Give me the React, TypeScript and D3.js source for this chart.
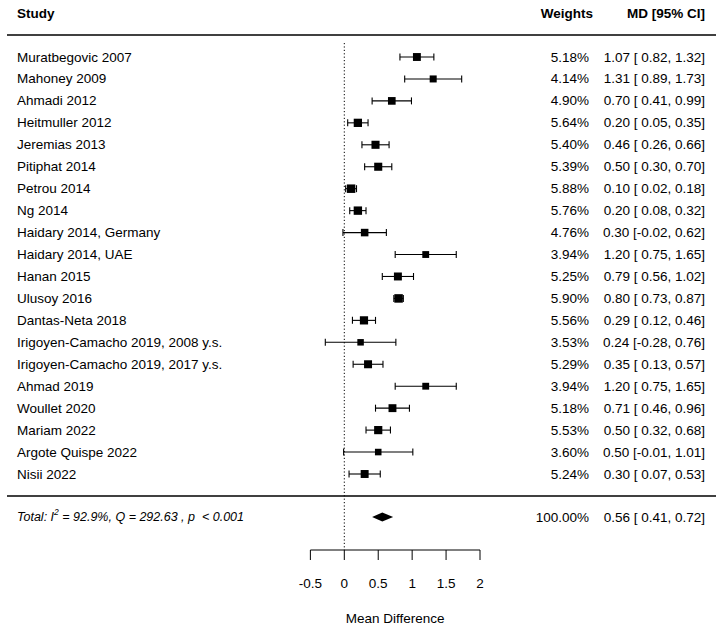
import React from "react";
import * as d3 from "d3";

const studies = [
  "Muratbegovic 2007", "Mahoney 2009", "Ahmadi 2012", "Heitmuller 2012", "Jeremias 2013",
  "Pitiphat 2014", "Petrou 2014", "Ng 2014", "Haidary 2014, Germany", "Haidary 2014, UAE",
  "Hanan 2015", "Ulusoy 2016", "Dantas-Neta 2018", "Irigoyen-Camacho 2019, 2008 y.s.",
  "Irigoyen-Camacho 2019, 2017 y.s.", "Ahmad 2019", "Woullet 2020", "Mariam 2022",
  "Argote Quispe 2022", "Nisii 2022",
];
const md = [1.07, 1.31, 0.70, 0.20, 0.46, 0.50, 0.10, 0.20, 0.30, 1.20, 0.79, 0.80, 0.29, 0.24, 0.35, 1.20, 0.71, 0.50, 0.50, 0.30];
const lower = [0.82, 0.89, 0.41, 0.05, 0.26, 0.30, 0.02, 0.08, -0.02, 0.75, 0.56, 0.73, 0.12, -0.28, 0.13, 0.75, 0.46, 0.32, -0.01, 0.07];
const upper = [1.32, 1.73, 0.99, 0.35, 0.66, 0.70, 0.18, 0.32, 0.62, 1.65, 1.02, 0.87, 0.46, 0.76, 0.57, 1.65, 0.96, 0.68, 1.01, 0.53];
const weights = [5.18, 4.14, 4.90, 5.64, 5.40, 5.39, 5.88, 5.76, 4.76, 3.94, 5.25, 5.90, 5.56, 3.53, 5.29, 3.94, 5.18, 5.53, 3.60, 5.24];
const total = { md: 0.56, lower: 0.41, upper: 0.72, weight: 100.0 };
const totalLabel = { i2: "92.9%", q: "292.63", p: "0.001" };
const ticks = [-0.5, 0, 0.5, 1, 1.5, 2];

const fmt2 = (v: number) => (v < 0 ? v.toFixed(2) : " " + v.toFixed(2));
const ciText = (m: number, l: number, u: number) => `${m.toFixed(2)} [${fmt2(l)}, ${u.toFixed(2)}]`;

export default function App() {
  const W = 722, H = 628;
  const x = d3.scaleLinear().domain([0, 2]).range([344.3, 480]);
  const y = d3.scaleLinear().domain([0, studies.length - 1]).range([57, 474]);
  const wMin = d3.min(weights)!, wMax = d3.max(weights)!;
  const size = d3.scaleLinear().domain([wMin, wMax]).range([6.5, 8.5]);
  const font = "Liberation Sans, Arial, sans-serif";
  const fs = 13.5;
  const axisY = 550;
  const totalY = 517;
  return (
    <svg width={W} height={H} style={{ position: "absolute", left: 0, top: 0 }} fontFamily={font} fontSize={fs}>
      <rect width={W} height={H} fill="#fff" />
      <text x={17} y={13} fontWeight="bold" dominantBaseline="central">Study</text>
      <text x={593} y={13} fontWeight="bold" textAnchor="end" dominantBaseline="central">Weights</text>
      <text x={705} y={13} fontWeight="bold" textAnchor="end" dominantBaseline="central">MD [95% CI]</text>
      <line x1={7} x2={716} y1={35} y2={35} stroke="#000" strokeWidth={1.3} />
      <line x1={7} x2={716} y1={496} y2={496} stroke="#000" strokeWidth={1.3} />
      <line x1={x(0)} x2={x(0)} y1={43} y2={axisY} stroke="#000" strokeWidth={1} strokeDasharray="1.2,2.2" />
      {studies.map((s, i) => {
        const yy = y(i);
        const sz = size(weights[i]);
        return (
          <g key={s}>
            <text x={17} y={yy} dominantBaseline="central">{s}</text>
            <line x1={x(lower[i])} x2={x(upper[i])} y1={yy} y2={yy} stroke="#000" strokeWidth={1.1} />
            <line x1={x(lower[i])} x2={x(lower[i])} y1={yy - 3.5} y2={yy + 3.5} stroke="#000" strokeWidth={1.1} />
            <line x1={x(upper[i])} x2={x(upper[i])} y1={yy - 3.5} y2={yy + 3.5} stroke="#000" strokeWidth={1.1} />
            <rect x={x(md[i]) - sz / 2} y={yy - sz / 2} width={sz} height={sz} fill="#000" />
            <text x={589} y={yy} textAnchor="end" dominantBaseline="central">{weights[i].toFixed(2)}%</text>
            <text x={705} y={yy} textAnchor="end" dominantBaseline="central" style={{ whiteSpace: "pre" }}>{ciText(md[i], lower[i], upper[i])}</text>
          </g>
        );
      })}
      <text x={17} y={totalY} dominantBaseline="central" fontStyle="italic" fontSize={12.5} style={{ whiteSpace: "pre" }}>
        {"Total: I"}
        <tspan dy={-5} fontSize={8.5}>2</tspan>
        <tspan dy={5}>{` = ${totalLabel.i2}, Q = ${totalLabel.q} , p  < ${totalLabel.p}`}</tspan>
      </text>
      <polygon
        points={`${x(total.lower)},${totalY} ${x(total.md)},${totalY - 4.5} ${x(total.upper)},${totalY} ${x(total.md)},${totalY + 4.5}`}
        fill="#000"
      />
      <text x={589} y={totalY} textAnchor="end" dominantBaseline="central">{total.weight.toFixed(2)}%</text>
      <text x={705} y={totalY} textAnchor="end" dominantBaseline="central" style={{ whiteSpace: "pre" }}>{ciText(total.md, total.lower, total.upper)}</text>
      <line x1={x(ticks[0])} x2={x(ticks[ticks.length - 1])} y1={axisY} y2={axisY} stroke="#000" strokeWidth={1} />
      {ticks.map((t) => (
        <g key={t}>
          <line x1={x(t)} x2={x(t)} y1={axisY} y2={axisY + 10} stroke="#000" strokeWidth={1} />
          <text x={x(t)} y={583} textAnchor="middle" dominantBaseline="central">{String(t)}</text>
        </g>
      ))}
      <text x={x((ticks[0] + ticks[ticks.length - 1]) / 2)} y={618} textAnchor="middle" dominantBaseline="central">Mean Difference</text>
    </svg>
  );
}
